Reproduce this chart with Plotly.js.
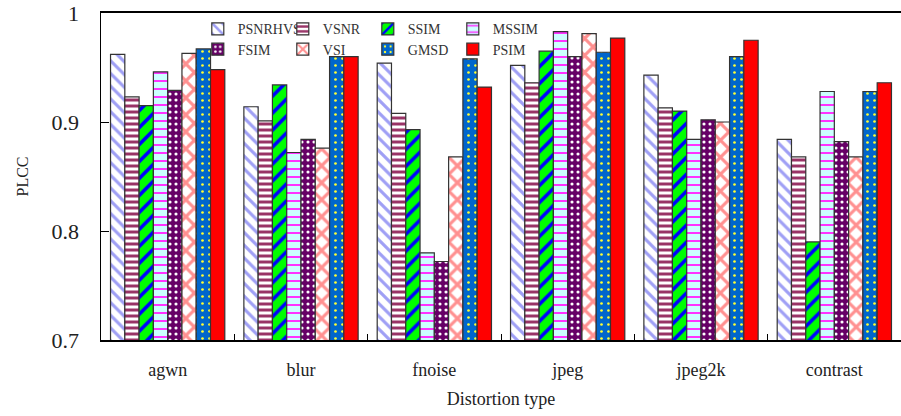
<!DOCTYPE html>
<html>
<head>
<meta charset="utf-8">
<script src="https://cdn.plot.ly/plotly-3.0.1.min.js"></script>
<style>html,body{margin:0;padding:0;background:#fff;}#chart{width:901px;height:416px;}</style>
</head>
<body>
<div id="chart"></div>
<script>
const categories = ['agwn', 'blur', 'fnoise', 'jpeg', 'jpeg2k', 'contrast'];
const methods = ['PSNRHVS', 'VSNR', 'SSIM', 'MSSIM', 'FSIM', 'VSI', 'GMSD', 'PSIM'];
const PSNRHVS = [0.962, 0.914, 0.954, 0.952, 0.943, 0.884];
const VSNR    = [0.923, 0.901, 0.908, 0.936, 0.913, 0.868];
const SSIM    = [0.915, 0.934, 0.893, 0.965, 0.910, 0.790];
const MSSIM   = [0.946, 0.872, 0.780, 0.983, 0.884, 0.928];
const FSIM    = [0.929, 0.884, 0.772, 0.960, 0.902, 0.882];
const VSI     = [0.963, 0.876, 0.868, 0.981, 0.900, 0.868];
const GMSD    = [0.967, 0.960, 0.958, 0.964, 0.960, 0.928];
const PSIM    = [0.948, 0.960, 0.932, 0.977, 0.975, 0.936];
const yTickVals = [0.7, 0.8, 0.9, 1];
const yTickText = ['0.7', '0.8', '0.9', '1'];

const seriesValues = [PSNRHVS, VSNR, SSIM, MSSIM, FSIM, VSI, GMSD, PSIM];
const styles = [
  {shape: '\\', bg: '#ffffff', fg: '#9f9ff5', size: 9, solidity: 0.35},
  {shape: '-',  bg: '#ffffff', fg: '#993366', size: 6, solidity: 0.5},
  {shape: '/',  bg: '#00ff00', fg: '#0000ff', size: 12, solidity: 0.3},
  {shape: '-',  bg: '#ccffff', fg: '#ff33ff', size: 8, solidity: 0.25},
  {shape: '.',  bg: '#660066', fg: '#ffffff', size: 6, solidity: 0.22},
  {shape: 'x',  bg: '#ffffff', fg: '#ff9090', size: 12, solidity: 0.45},
  {shape: '.',  bg: '#0066cc', fg: '#ffff33', size: 7, solidity: 0.12},
  {shape: '',   bg: '#ff0000', fg: '#ff0000', size: 8, solidity: 0.3}
];

const FONT = 'Liberation Serif, Times New Roman, serif';

const traces = methods.map((name, i) => {
  const s = styles[i];
  const t = {
    type: 'bar',
    name: name,
    x: categories,
    y: seriesValues[i],
    legend: i < 4 ? 'legend' : 'legend2',
    marker: {
      color: s.bg,
      line: {color: '#333333', width: 1.2}
    }
  };
  if (s.shape) {
    t.marker.pattern = {shape: s.shape, bgcolor: s.bg, fgcolor: s.fg, size: s.size, solidity: s.solidity, fillmode: 'replace'};
  }
  return t;
});

const legendCommon = {
  orientation: 'h',
  xanchor: 'left',
  yanchor: 'middle',
  bgcolor: 'rgba(0,0,0,0)',
  font: {family: FONT, size: 14, color: '#333'},
  entrywidth: 40,
  entrywidthmode: 'pixels',
  itemwidth: 30,
  tracegroupgap: 0,
  traceorder: 'normal'
};

const layout = {
  width: 901,
  height: 416,
  margin: {l: 101, r: 0, t: 13, b: 76},
  paper_bgcolor: '#ffffff',
  plot_bgcolor: '#ffffff',
  barmode: 'group',
  bargap: 0.143,
  bargroupgap: 0,
  showlegend: true,
  font: {family: FONT, color: '#222'},
  legend: Object.assign({}, legendCommon, {x: 0.121, y: 0.95}),
  legend2: Object.assign({}, legendCommon, {x: 0.121, y: 0.888}),
  xaxis: {
    type: 'category',
    range: [-0.5, 5.5],
    showline: true,
    linecolor: '#000',
    linewidth: 2,
    mirror: true,
    ticks: 'inside',
    tickson: 'boundaries',
    ticklen: 6,
    tickcolor: '#000',
    showgrid: false,
    ticklabelstandoff: 12,
    tickfont: {family: FONT, size: 18, color: '#222'},
    title: {text: 'Distortion type', font: {family: FONT, size: 18, color: '#222'}, standoff: 14}
  },
  yaxis: {
    range: [0.7, 1],
    tickvals: yTickVals,
    ticktext: yTickText,
    showline: true,
    linecolor: '#000',
    linewidth: 1.5,
    ticks: 'inside',
    ticklen: 8,
    tickcolor: '#000',
    showgrid: false,
    zeroline: false,
    ticklabelstandoff: 16,
    tickfont: {family: FONT, size: 22, color: '#222'},
    title: {text: 'PLCC', font: {family: FONT, size: 16, color: '#222'}, standoff: 19}
  }
};

Plotly.newPlot('chart', traces, layout, {displayModeBar: false, staticPlot: true});
</script>
</body>
</html>
